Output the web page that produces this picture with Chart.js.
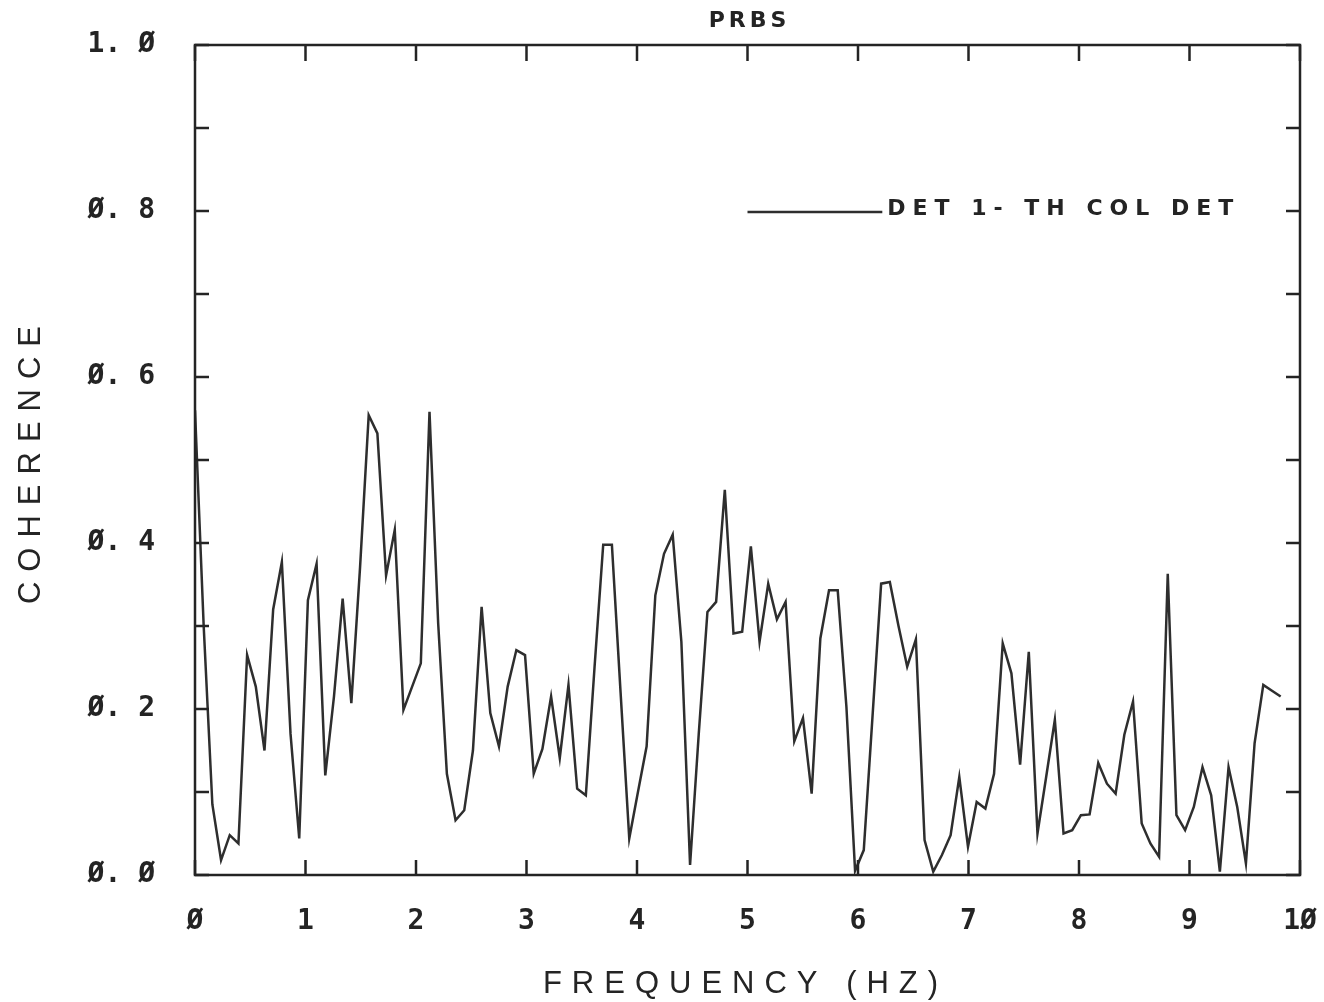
<!DOCTYPE html>
<html>
<head>
<meta charset="utf-8">
<script src="https://cdn.jsdelivr.net/npm/chart.js@4.4.1/dist/chart.umd.min.js"></script>
<style>
html, body { margin: 0; padding: 0; background: #fff; }
</style>
</head>
<body>
<canvas id="coherence-chart" width="1324" height="1002"></canvas>
<script>
// --- 1. Data ---
const PLOT_TITLE = 'PRBS';
const SERIES_LABEL = 'DET 1- TH COL DET';
const X_TITLE = 'FREQUENCY (HZ)';
const Y_TITLE = 'COHERENCE';

const FREQ_STEP = 0.0786; // Hz between spectral lines

const COHERENCE = [
    0.56, 0.30, 0.085, 0.018, 0.048, 0.038, 0.265, 0.227, 0.15, 0.32,
    0.377, 0.17, 0.044, 0.331, 0.375, 0.12, 0.215, 0.333, 0.207, 0.37,
    0.554, 0.532, 0.361, 0.416, 0.199, 0.227, 0.255, 0.558, 0.303, 0.122,
    0.066, 0.078, 0.15, 0.323, 0.195, 0.155, 0.227, 0.271, 0.265, 0.122,
    0.152, 0.215, 0.141, 0.229, 0.104, 0.096, 0.25, 0.398, 0.398, 0.22,
    0.044, 0.10, 0.155, 0.337, 0.387, 0.41, 0.281, 0.012, 0.17, 0.317,
    0.329, 0.464, 0.291, 0.293, 0.396, 0.281, 0.351, 0.308, 0.329, 0.161,
    0.189, 0.098, 0.285, 0.343, 0.343, 0.203, 0.005, 0.03, 0.19, 0.351,
    0.353, 0.30, 0.251, 0.284, 0.042, 0.004, 0.024, 0.048, 0.118, 0.034,
    0.088, 0.080, 0.122, 0.279, 0.243, 0.133, 0.269, 0.050, 0.118, 0.187,
    0.05, 0.054, 0.072, 0.073, 0.135, 0.110, 0.098, 0.169, 0.209, 0.062,
    0.038, 0.022, 0.363, 0.072, 0.054, 0.082, 0.13, 0.096, 0.004, 0.13,
    0.082, 0.014, 0.159, 0.229, 0.222, 0.215
];

const X_TICKS = [0, 1, 2, 3, 4, 5, 6, 7, 8, 9, 10];
const X_TICK_LABELS = ['Ø', '1', '2', '3', '4', '5', '6', '7', '8', '9', '1Ø'];
const Y_TICKS = [0, 0.2, 0.4, 0.6, 0.8, 1.0];
const Y_TICK_LABELS = ['Ø. Ø', 'Ø. 2', 'Ø. 4', 'Ø. 6', 'Ø. 8', '1. Ø'];

// --- 2. Look ---
const INK = '#242424';
const LINE_INK = '#2e2e2e';
const TICK_FONT = { family: '"DejaVu Sans Mono", monospace', size: 28, weight: 'bold' };
const LEGEND_SPAN = { x0: 5.0, x1: 6.22, y: 0.8 };

function labelFor(values, labels, v) {
    const i = values.findIndex(t => Math.abs(t - v) < 1e-6);
    return i >= 0 ? labels[i] : '';
}

// frame, inward ticks, titles and legend, drawn like the old plotter output
const plotterFrame = {
    id: 'plotterFrame',
    afterDraw(chart) {
        const { ctx, chartArea: a, scales: { x, y } } = chart;
        ctx.save();
        ctx.strokeStyle = INK;
        ctx.lineWidth = 2.5;
        ctx.strokeRect(a.left, a.top, a.right - a.left, a.bottom - a.top);

        ctx.beginPath();
        y.ticks.forEach(t => {
            const py = y.getPixelForValue(t.value);
            ctx.moveTo(a.left, py); ctx.lineTo(a.left + 14, py);
            ctx.moveTo(a.right, py); ctx.lineTo(a.right - 14, py);
        });
        x.ticks.forEach(t => {
            const px = x.getPixelForValue(t.value);
            ctx.moveTo(px, a.bottom); ctx.lineTo(px, a.bottom - 15);
            ctx.moveTo(px, a.top); ctx.lineTo(px, a.top + 16);
        });
        ctx.stroke();

        ctx.fillStyle = INK;
        ctx.textBaseline = 'middle';

        // title
        ctx.font = 'bold 22px "DejaVu Sans", sans-serif';
        ctx.letterSpacing = '4px';
        ctx.textAlign = 'center';
        ctx.fillText(PLOT_TITLE, (a.left + a.right) / 2 + 2, a.top - 24);

        // axis titles
        ctx.font = '31px "Liberation Sans", sans-serif';
        ctx.letterSpacing = '10px';
        ctx.fillText(X_TITLE, (a.left + a.right) / 2 - 2, 984);
        ctx.save();
        ctx.translate(31, (a.top + a.bottom) / 2);
        ctx.rotate(-Math.PI / 2);
        ctx.fillText(Y_TITLE, 0, 0);
        ctx.restore();

        // legend
        const ds = chart.data.datasets[0];
        const ly = y.getPixelForValue(LEGEND_SPAN.y);
        const lx0 = x.getPixelForValue(LEGEND_SPAN.x0);
        const lx1 = x.getPixelForValue(LEGEND_SPAN.x1);
        ctx.strokeStyle = ds.borderColor;
        ctx.lineWidth = 2.5;
        ctx.beginPath();
        ctx.moveTo(lx0, ly + 1); ctx.lineTo(lx1, ly + 1);
        ctx.stroke();
        ctx.font = 'bold 22px "DejaVu Sans", sans-serif';
        ctx.letterSpacing = '7px';
        ctx.textAlign = 'left';
        ctx.fillText(ds.label, lx1 + 5, ly - 2);
        ctx.restore();
    }
};

// --- 3. Chart ---
// label offsets go through tickLength (not ticks.padding) so they don't
// push the chart area in from the edges
const ctx = document.getElementById('coherence-chart').getContext('2d');
new Chart(ctx, {
    type: 'line',
    data: {
        datasets: [{
            label: SERIES_LABEL,
            data: COHERENCE.map((v, i) => ({ x: i * FREQ_STEP, y: v })),
            borderColor: LINE_INK,
            borderWidth: 2.5,
            pointRadius: 0,
            tension: 0,
            fill: false
        }]
    },
    options: {
        responsive: false,
        animation: false,
        devicePixelRatio: 1,
        layout: { padding: { top: 45, right: 24, left: 0, bottom: 0 } },
        plugins: {
            legend: { display: false },
            title: { display: false },
            tooltip: { enabled: false }
        },
        scales: {
            x: {
                type: 'linear',
                min: 0,
                max: 10,
                grid: { display: false, drawTicks: true, tickLength: 27 },
                border: { display: false },
                afterFit: s => { s.height = 127; },
                afterBuildTicks: s => { s.ticks = X_TICKS.map(v => ({ value: v })); },
                ticks: {
                    autoSkip: false,
                    maxRotation: 0,
                    padding: 3,
                    color: INK,
                    font: TICK_FONT,
                    callback: v => labelFor(X_TICKS, X_TICK_LABELS, v)
                }
            },
            y: {
                min: 0,
                max: 1,
                grid: { display: false, drawTicks: true, tickLength: 37 },
                border: { display: false },
                afterFit: s => { s.width = 195; },
                ticks: {
                    stepSize: 0.1,
                    autoSkip: false,
                    padding: 3,
                    color: INK,
                    font: TICK_FONT,
                    callback: v => labelFor(Y_TICKS, Y_TICK_LABELS, v)
                }
            }
        }
    },
    plugins: [plotterFrame]
});
</script>
</body>
</html>
